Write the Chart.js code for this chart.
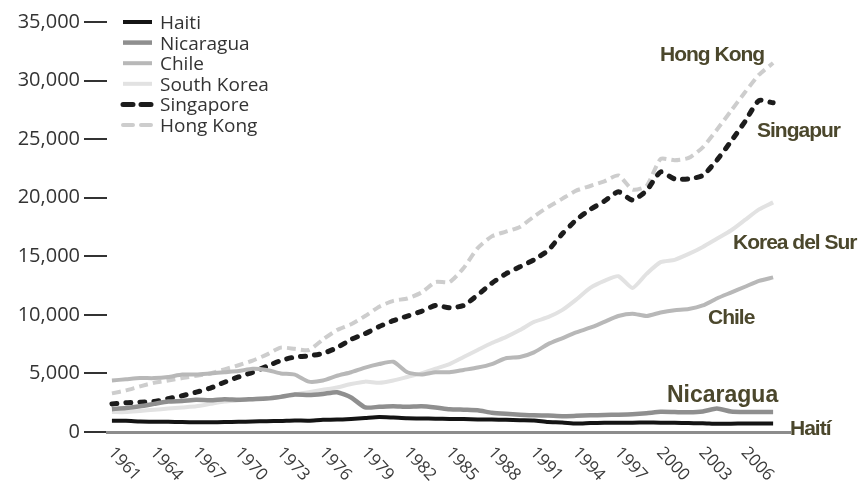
<!DOCTYPE html>
<html>
<head>
<meta charset="utf-8">
<script src="https://cdn.jsdelivr.net/npm/chart.js@4.4.1/dist/chart.umd.min.js"></script>
<style>
  html, body { margin: 0; padding: 0; background: #fff; }
</style>
</head>
<body>
<canvas id="chartPib" width="860" height="487"></canvas>
<script>
// ========== Dados ==========
const years = [1961,1962,1963,1964,1965,1966,1967,1968,1969,1970,
               1971,1972,1973,1974,1975,1976,1977,1978,1979,1980,
               1981,1982,1983,1984,1985,1986,1987,1988,1989,1990,
               1991,1992,1993,1994,1995,1996,1997,1998,1999,2000,
               2001,2002,2003,2004,2005,2006,2007,2008];
const tickYears = [1961,1964,1967,1970,1973,1976,1979,1982,1985,1988,1991,1994,1997,2000,2003,2006];
const yTicks = [0, 5000, 10000, 15000, 20000, 25000, 30000, 35000];

const haiti = [950,960,900,880,870,850,830,830,850,870,
               900,920,940,980,970,1050,1060,1120,1200,1280,
               1230,1170,1150,1140,1120,1100,1070,1060,1040,1010,
               990,860,820,720,760,780,790,800,810,800,
               780,760,750,700,710,720,730,720];
const nicaragua = [1950,2050,2200,2400,2600,2650,2750,2700,2800,2750,
                   2800,2850,3000,3200,3150,3250,3400,2950,2100,2150,
                   2200,2150,2200,2100,1950,1900,1850,1650,1550,1480,
                   1420,1400,1350,1380,1420,1450,1480,1520,1600,1720,
                   1700,1680,1750,2000,1750,1700,1700,1700];
const chile = [4400,4500,4600,4600,4700,4900,4900,5000,5100,5200,
               5400,5300,5000,4900,4300,4400,4800,5100,5500,5800,
               6000,5100,4900,5100,5100,5300,5500,5800,6300,6400,
               6800,7500,8000,8500,8900,9400,9900,10100,9900,10200,
               10400,10500,10800,11400,11900,12400,12900,13200];
const southKorea = [1700,1700,1800,1900,2000,2100,2200,2400,2600,2700,
                    2800,2900,3000,3200,3400,3600,3800,4100,4300,4200,
                    4400,4700,5000,5400,5800,6400,7000,7600,8100,8700,
                    9400,9800,10400,11300,12300,12900,13300,12300,13500,14500,
                    14700,15200,15800,16500,17200,18100,19000,19600];
const singapore = [2400,2500,2550,2600,2850,3100,3400,3750,4250,4700,
                   5100,5600,6100,6400,6500,6700,7200,7900,8400,9000,
                   9500,9900,10300,10800,10600,10800,11700,12700,13500,14100,
                   14700,15500,16900,18100,19000,19700,20500,19800,20600,22200,
                   21600,21600,21900,23200,24800,26500,28300,28100];
const hongKong = [3300,3550,3900,4200,4400,4600,4800,5000,5350,5700,
                  6100,6600,7200,7100,7000,7900,8700,9200,9900,10700,
                  11200,11400,11900,12800,12800,14000,15700,16700,17100,17500,
                  18400,19200,19900,20600,21000,21400,21900,20700,21000,23300,
                  23200,23400,24300,25800,27400,29000,30500,31500];

const seriesNames = ['Haiti','Nicaragua','Chile','South Korea','Singapore','Hong Kong'];
const endLabels = ['Haití','Nicaragua','Chile','Korea del Sur','Singapur','Hong Kong'];

const toPoints = vals => vals.map((v, i) => ({ x: years[i], y: v }));

// ========== Plugin: eixo x girado, legenda e rótulos ==========
const extras = {
  id: 'extras',
  afterDraw(chart) {
    const { ctx, chartArea } = chart;
    const xs = chart.scales.x;
    ctx.save();

    // rótulos do eixo x (girados para baixo)
    ctx.fillStyle = '#3a3a3a';
    ctx.font = '17px "Open Sans", sans-serif';
    ctx.textAlign = 'left';
    ctx.textBaseline = 'middle';
    tickYears.forEach(yr => {
      ctx.save();
      ctx.translate(xs.getPixelForValue(yr) - 1, chartArea.bottom + 18);
      ctx.rotate(Math.PI * 0.26);
      ctx.fillText(String(yr), 0, 0);
      ctx.restore();
    });

    // legenda
    ctx.font = '19px "Open Sans", sans-serif';
    ctx.textBaseline = 'alphabetic';
    chart.data.datasets.forEach((ds, i) => {
      const y = 22 + i * 20.6;
      ctx.strokeStyle = ds.borderColor;
      ctx.lineWidth = ds.borderWidth;
      ctx.lineCap = ds.borderDash ? 'round' : 'butt';
      ctx.setLineDash(ds.borderDash ? [10, 8] : []);
      ctx.beginPath();
      ctx.moveTo(123, y);
      ctx.lineTo(152, y);
      ctx.stroke();
      ctx.setLineDash([]);
      ctx.fillStyle = '#333';
      ctx.fillText(ds.label, 160, y + 7);
    });

    // rótulos no fim das linhas
    const notePos = [[790, 435, 21], [667, 402, 23], [708, 324, 21], [733, 249, 21], [757, 137, 21], [660, 61, 21]];
    ctx.fillStyle = '#4b472c';
    endLabels.forEach((t, i) => {
      const [px, py, fs] = notePos[i];
      ctx.font = 'bold ' + fs + 'px "Liberation Sans", Arial, sans-serif';
      ctx.letterSpacing = fs > 21 ? '0px' : '-1px';
      ctx.fillText(t, px, py);
    });
    ctx.letterSpacing = '0px';
    ctx.restore();
  }
};

// ========== Gráfico ==========
Chart.defaults.font.family = '"Open Sans", sans-serif';
Chart.defaults.color = '#3a3a3a';

const styles = [
  { borderColor: '#141414', borderWidth: 4 },
  { borderColor: '#8f8f8f', borderWidth: 4.5 },
  { borderColor: '#b8b8b8', borderWidth: 4 },
  { borderColor: '#e2e2e2', borderWidth: 4 },
  { borderColor: '#1c1c1c', borderWidth: 5, borderDash: [5, 9], borderCapStyle: 'round' },
  { borderColor: '#cdcdcd', borderWidth: 4, borderDash: [9, 5] }
];
const seriesData = [haiti, nicaragua, chile, southKorea, singapore, hongKong];

new Chart(document.getElementById('chartPib'), {
  type: 'line',
  data: {
    datasets: seriesData.map((vals, i) => Object.assign({
      label: seriesNames[i],
      data: toPoints(vals),
      pointRadius: 0,
      tension: 0.2,
      fill: false
    }, styles[i]))
  },
  options: {
    responsive: false,
    animation: false,
    layout: { padding: { top: 22, right: 70, left: 0, bottom: 0 } },
    plugins: { legend: { display: false }, tooltip: { enabled: false } },
    scales: {
      x: {
        type: 'linear',
        min: 1960.65,
        max: 2009.2,
        grid: { display: false },
        border: { display: true, color: '#8c8c8c', width: 3 },
        ticks: { display: false },
        afterFit(s) { s.height = 55; }
      },
      y: {
        min: 0,
        max: 35000,
        afterBuildTicks(s) { s.ticks = yTicks.map(v => ({ value: v })); },
        ticks: {
          color: '#333',
          font: { size: 20 },
          padding: 4,
          callback: v => v.toLocaleString('en-US')
        },
        grid: { drawOnChartArea: false, drawTicks: true, tickLength: 23, color: '#333', lineWidth: 2 },
        border: { display: false },
        afterFit(s) { s.width = 107; }
      }
    }
  },
  plugins: [extras]
});
</script>
</body>
</html>
